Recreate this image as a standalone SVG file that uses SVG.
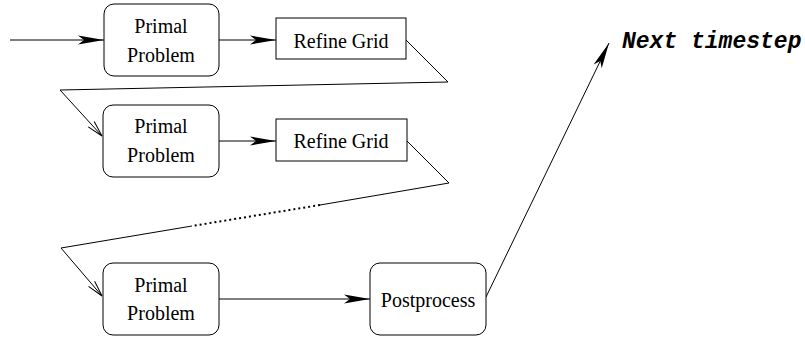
<svg xmlns="http://www.w3.org/2000/svg" width="805" height="338" viewBox="0 0 805 338">
  <style>
    .box { fill: #fff; stroke: #000; stroke-width: 1; }
    .lbl { font-family: "Liberation Serif", "Times New Roman", serif; font-size: 20px; fill: #000; text-anchor: middle; }
    .edge { fill: none; stroke: #000; stroke-width: 1; }
    .dots { fill: none; stroke: #000; stroke-width: 2; stroke-dasharray: 2 3; }
    .note { font-family: "Liberation Mono", "Courier New", monospace; font-size: 23px; font-weight: bold; font-style: italic; fill: #000; }
  </style>
  <defs>
    <marker id="solidHead" viewBox="-27 -5 28 10" refX="0" refY="0" markerWidth="28" markerHeight="10" markerUnits="userSpaceOnUse" orient="auto">
      <path d="M0,0 L-26,-4.5 L-20,0 L-26,4.5 Z" fill="#000"/>
    </marker>
    <marker id="openHead" viewBox="-18 -6 19 12" refX="0" refY="0" markerWidth="19" markerHeight="12" markerUnits="userSpaceOnUse" orient="auto">
      <path d="M-16,-4 L0,0 L-16,4" fill="none" stroke="#000" stroke-width="1"/>
    </marker>
  </defs>

  <g id="connectors">
    <line class="edge" x1="10" y1="40" x2="104" y2="40" marker-end="url(#solidHead)"/>
    <line class="edge" x1="219" y1="40" x2="276" y2="40" marker-end="url(#solidHead)"/>
    <polyline class="edge" points="406,40 448,82 60,90 102,136" marker-end="url(#openHead)"/>
    <line class="edge" x1="219" y1="141" x2="276" y2="141" marker-end="url(#solidHead)"/>
    <polyline class="edge" points="407,141 449,183 320,205"/>
    <line class="dots" x1="320" y1="205" x2="192" y2="226"/>
    <polyline class="edge" points="192,226 61,248 102,296" marker-end="url(#openHead)"/>
    <line class="edge" x1="219" y1="299" x2="370" y2="299" marker-end="url(#solidHead)"/>
    <line class="edge" x1="486" y1="297" x2="609" y2="43" marker-end="url(#solidHead)"/>
  </g>

  <g id="primal1">
    <rect class="box" x="104" y="4" width="115" height="72" rx="10" ry="10"/>
    <text class="lbl" x="161" y="33">Primal</text>
    <text class="lbl" x="161" y="62">Problem</text>
  </g>
  <g id="refine1">
    <rect class="box" x="276" y="18" width="130" height="41"/>
    <text class="lbl" x="341" y="48">Refine Grid</text>
  </g>
  <g id="primal2">
    <rect class="box" x="103" y="105" width="116" height="72" rx="10" ry="10"/>
    <text class="lbl" x="161" y="133">Primal</text>
    <text class="lbl" x="161" y="162">Problem</text>
  </g>
  <g id="refine2">
    <rect class="box" x="276" y="119" width="131" height="42"/>
    <text class="lbl" x="341" y="148">Refine Grid</text>
  </g>
  <g id="primal3">
    <rect class="box" x="103" y="263" width="116" height="72" rx="10" ry="10"/>
    <text class="lbl" x="161" y="292">Primal</text>
    <text class="lbl" x="161" y="320">Problem</text>
  </g>
  <g id="postprocess">
    <rect class="box" x="370" y="263" width="116" height="72" rx="10" ry="10"/>
    <text class="lbl" x="428" y="307">Postprocess</text>
  </g>
  <g id="next-timestep">
    <text class="note" x="622" y="48">Next timestep</text>
  </g>
</svg>
